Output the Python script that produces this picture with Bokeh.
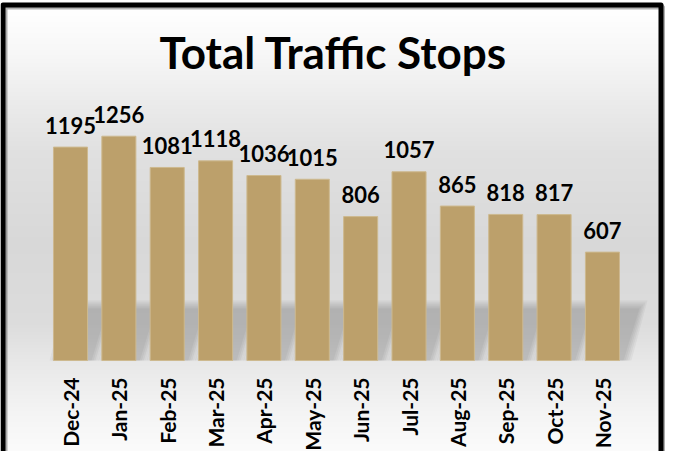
import numpy as np
from bokeh.plotting import figure
from bokeh.models import Range1d
from bokeh.core.properties import value
from bokeh.embed import file_html
from bokeh.resources import INLINE

# ---- data ----
months = ["Dec-24", "Jan-25", "Feb-25", "Mar-25", "Apr-25", "May-25",
          "Jun-25", "Jul-25", "Aug-25", "Sep-25", "Oct-25", "Nov-25"]
stops = [1195, 1256, 1081, 1118, 1036, 1015, 806, 1057, 865, 818, 817, 607]
title_text = "Total Traffic Stops"

# ---- geometry (pixels -> data helpers) ----
W, H = 665, 451
PX_X = 48.36          # pixels per category
K = 5.6               # data units per vertical pixel
BASE_PX = 360         # baseline, pixels from top of canvas
X0 = 0.5 - 70 / PX_X
X1 = X0 + W / PX_X
Y0 = -(H - BASE_PX) * K
Y1 = BASE_PX * K


def dx(px):
    return X0 + px / PX_X


def dy(py):
    return Y1 - py * K


p = figure(width=W, height=H, x_range=Range1d(X0, X1), y_range=Range1d(Y0, Y1),
           output_backend="svg", toolbar_location=None, title=None,
           x_axis_location=None, y_axis_location=None, min_border=0)
p.grid.visible = False
p.outline_line_color = None
p.background_fill_color = "white"
p.border_fill_color = "white"

# ---- background gradient ----
stop_py = [0, 7, 52, 102, 152, 242, 322, 362, 412, 451]
stop_c = [255, 255, 247, 235, 224, 216, 220, 232, 244, 251]
rows = np.interp(np.arange(H), stop_py, stop_c)
img = np.empty((H, 2), dtype=np.uint32)
view = img.view(dtype=np.uint8).reshape((H, 2, 4))
for k in range(H):
    g = int(round(rows[H - 1 - k]))
    view[k, :, 0] = g
    view[k, :, 1] = g
    view[k, :, 2] = g
    view[k, :, 3] = 255
p.image_rgba(image=[img], x=X0, y=Y0, dw=X1 - X0, dh=Y1 - Y0)

# ---- border with shadow ----
p.quad(left=dx(4.5), right=dx(662.5), top=dy(6.5), bottom=dy(H + 30),
       fill_color=None, line_color="#000000", line_alpha=0.3, line_width=5)
p.quad(left=dx(2.5), right=dx(660.5), top=dy(4.5), bottom=dy(H + 30),
       fill_color=None, line_color="#000000", line_width=5, line_join="round")

centers = [i + 0.5 for i in range(len(months))]
half = 0.352

# ---- soft perspective shadows behind bars ----
for j in range(5):
    g = j * 2.0
    xs, ys = [], []
    for c in centers:
        l, r = c - half, c + half
        top = (52 + g) * K
        xs.append([l + (4 - g) / PX_X, r + (4 + g) / PX_X,
                   r + (20 + g) / PX_X, l + (20 - g) / PX_X])
        ys.append([0, 0, top, top])
    p.patches(xs=xs, ys=ys, fill_color="#000000", fill_alpha=0.04, line_color=None)

# ---- bars ----
p.vbar(x=centers, top=stops, bottom=0, width=2 * half,
       fill_color="#BCA06B", line_color="#CDB98F", line_width=1)

# ---- value labels ----
p.text(x=centers, y=[v + 22 * K for v in stops], text=[str(v) for v in stops],
       text_font=value("Lato"), text_font_style="bold", text_font_size="22px",
       text_align="center", text_baseline="alphabetic", text_color="#000000")

# ---- category labels ----
p.text(x=centers, y=[dy(377)] * len(months), text=months, angle=np.pi / 2,
       text_font=value("Lato"), text_font_style="bold", text_font_size="21px",
       text_align="right", text_baseline="middle", text_color="#000000")

# ---- title ----
p.text(x=[dx(333)], y=[dy(51)], text=[title_text],
       text_font=value("Lato"), text_font_style="bold", text_font_size="44px",
       text_align="center", text_baseline="alphabetic", text_color="#000000")

open("out.html", "w").write(file_html(p, INLINE))
